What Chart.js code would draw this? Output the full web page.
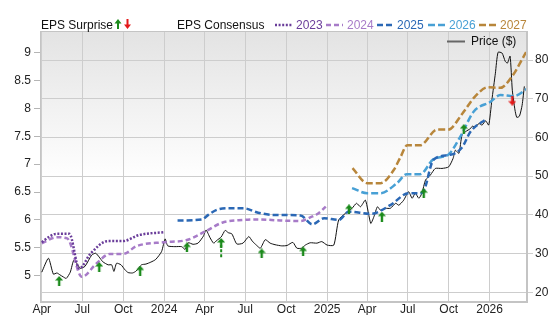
<!DOCTYPE html>
<html>
<head>
<meta charset="utf-8">
<script src="https://cdn.jsdelivr.net/npm/chart.js@4.4.0/dist/chart.umd.min.js"></script>
<style>
  html, body { margin: 0; padding: 0; background: #fff; }
  #wrap { position: relative; width: 556px; height: 315px; font-family: "Liberation Sans", Arial, sans-serif; }
  #chart { position: absolute; left: 0; top: 0; }
  .lg { position: absolute; font-size: 12px; line-height: 14px; white-space: nowrap; color: #111; }
  .smp { position: absolute; }
</style>
</head>
<body>
<div id="wrap">
  <canvas id="chart" width="556" height="315"></canvas>

  <div class="lg" style="left:41px;top:18px">EPS Surprise</div>
  <svg class="smp" style="left:114px;top:19px" width="18" height="11">
    <path d="M4 0 L7.5 4.5 L5 4.5 L5 10 L3 10 L3 4.5 L0.5 4.5 Z" fill="#1b8a1b"/>
    <path d="M13.5 10 L17 5.5 L14.5 5.5 L14.5 0 L12.5 0 L12.5 5.5 L10 5.5 Z" fill="#e41a1a"/>
  </svg>
  <div class="lg" style="left:177px;top:18px">EPS Consensus</div>

  <svg class="smp" style="left:275px;top:22px" width="18" height="6"><line x1="0" y1="3" x2="18" y2="3" stroke="#6a3d9a" stroke-width="2.5" stroke-dasharray="2,1.6"/></svg>
  <div class="lg" style="left:296px;top:18px;color:#6a3d9a">2023</div>
  <svg class="smp" style="left:326px;top:22px" width="17" height="6"><line x1="0" y1="3" x2="17" y2="3" stroke="#a77bc8" stroke-width="2.5" stroke-dasharray="5,3"/></svg>
  <div class="lg" style="left:347px;top:18px;color:#a77bc8">2024</div>
  <svg class="smp" style="left:377px;top:22px" width="17" height="6"><line x1="0" y1="3" x2="17" y2="3" stroke="#2b68b5" stroke-width="2.5" stroke-dasharray="6,3"/></svg>
  <div class="lg" style="left:397px;top:18px;color:#2b68b5">2025</div>
  <svg class="smp" style="left:428px;top:22px" width="17" height="6"><line x1="0" y1="3" x2="17" y2="3" stroke="#48a0d5" stroke-width="2.5" stroke-dasharray="7,3"/></svg>
  <div class="lg" style="left:449px;top:18px;color:#48a0d5">2026</div>
  <svg class="smp" style="left:479px;top:22px" width="18" height="6"><line x1="0" y1="3" x2="18" y2="3" stroke="#b8863b" stroke-width="2.5" stroke-dasharray="7,3"/></svg>
  <div class="lg" style="left:500px;top:18px;color:#b8863b">2027</div>

  <svg class="smp" style="left:447px;top:40px" width="18" height="3"><line x1="0" y1="1.5" x2="18" y2="1.5" stroke="#666" stroke-width="2"/></svg>
  <div class="lg" style="left:471px;top:34px">Price ($)</div>
</div>

<script>
// ---- data ----
const tickDates = ['2023-04-01','2023-07-01','2023-10-01','2024-01-01','2024-04-01','2024-07-01',
  '2024-10-01','2025-01-01','2025-04-01','2025-07-01','2025-10-01','2026-01-01'];
const tickLabels = ['Apr','Jul','Oct','2024','Apr','Jul','Oct','2025','Apr','Jul','Oct','2026'];
const epsTicks = [5, 5.5, 6, 6.5, 7, 7.5, 8, 8.5, 9];
const priceTicks = [20, 30, 40, 50, 60, 70, 80];

const priceDates = ['2023-04-01','2023-04-16','2023-04-27','2023-05-05','2023-05-12','2023-05-19','2023-05-26',
  '2023-06-04','2023-06-12','2023-06-21','2023-06-26','2023-07-07','2023-07-22','2023-07-31','2023-08-08',
  '2023-08-16','2023-08-28','2023-09-05','2023-09-10','2023-09-16','2023-09-26','2023-10-05','2023-10-12',
  '2023-10-22','2023-10-30','2023-11-11','2023-11-21','2023-12-02','2023-12-13','2023-12-26','2024-01-03',
  '2024-01-09','2024-01-25','2024-02-09','2024-02-17','2024-02-24','2024-03-06','2024-03-17','2024-03-29',
  '2024-04-04','2024-04-13','2024-04-21','2024-04-28','2024-05-08','2024-05-17','2024-05-24','2024-06-01',
  '2024-06-12','2024-06-26','2024-07-09','2024-07-17','2024-07-26','2024-08-04','2024-08-15','2024-08-26',
  '2024-09-06','2024-09-21','2024-10-03','2024-10-16','2024-10-25','2024-11-05','2024-11-13','2024-11-24',
  '2024-12-09','2024-12-20','2025-01-01','2025-01-16','2025-01-27','2025-02-11','2025-02-26','2025-03-08',
  '2025-03-17','2025-03-28','2025-04-09','2025-04-16','2025-04-24','2025-05-01','2025-05-12','2025-05-23',
  '2025-06-04','2025-06-11','2025-06-22','2025-07-03','2025-07-11','2025-07-18','2025-07-26','2025-08-02',
  '2025-08-10','2025-08-21','2025-09-01','2025-09-16','2025-10-01','2025-10-11','2025-10-16','2025-10-24',
  '2025-10-31','2025-11-08','2025-11-19','2025-11-23','2025-11-30','2025-12-08','2025-12-15','2025-12-23',
  '2025-12-30','2026-01-06','2026-01-14','2026-01-20','2026-01-29','2026-02-05','2026-02-10','2026-02-16',
  '2026-02-21','2026-02-27','2026-03-03','2026-03-09','2026-03-15','2026-03-20'];
const priceValues = [25.2,28.8,24.7,25.0,24.5,24.0,23.6,
  25.2,28.3,27.1,26.2,26.7,29.6,30.1,29.1,
  27.9,27.1,27.1,25.4,27.5,27.1,25.8,25.1,
  25.0,25.5,27.1,27.3,27.8,28.5,30.5,33.8,
  32.0,31.8,31.8,31.1,32.8,32.4,32.7,34.5,
  36.1,34.1,32.7,33.4,34.3,36.0,35.4,35.1,
  32.5,32.7,34.4,33.2,32.2,31.4,33.6,32.7,
  32.3,32.0,32.1,32.9,31.4,31.4,32.2,32.8,
  32.7,33.1,32.2,32.2,38.7,40.4,41.7,43.0,
  42.1,43.8,37.8,39.5,42.1,41.2,41.7,41.7,
  43.0,42.5,43.8,46.0,44.3,45.6,44.3,45.6,
  49.0,50.3,52.0,52.0,52.4,54.6,56.7,55.9,
  60.6,61.5,62.3,62.9,62.7,63.6,63.2,64.3,
  63.2,69.6,76.6,82.0,81.8,79.7,79.2,81.0,
  72.2,67.1,65.2,65.5,68.3,73.2];

const eps2023Dates = ['2023-04-01','2023-04-18','2023-05-03','2023-06-02','2023-06-24','2023-07-20','2023-08-27',
  '2023-09-30','2023-11-06','2024-01-01'];
const eps2023 = [5.60,5.70,5.75,5.75,5.13,5.40,5.62,5.62,5.73,5.78];

const eps2024Dates = ['2023-04-01','2023-05-05','2023-05-28','2023-06-30','2023-08-02','2023-09-01','2023-10-01',
  '2023-10-31','2023-12-30','2024-02-21','2024-04-06','2024-05-10','2024-06-28','2024-07-28','2024-09-18',
  '2024-11-02','2024-11-25','2024-12-11','2024-12-29'];
const eps2024 = [5.58,5.69,5.67,4.98,5.22,5.39,5.39,5.53,5.60,5.64,5.81,5.95,6.00,6.01,5.99,5.98,6.05,6.11,6.24];

const eps2025Dates = ['2024-01-31','2024-03-26','2024-04-09','2024-04-28','2024-05-24','2024-06-27','2024-07-30',
  '2024-09-02','2024-11-02','2024-11-29','2024-12-25','2025-01-27','2025-02-19','2025-04-09','2025-05-24',
  '2025-07-03','2025-07-29','2025-08-07','2025-08-28','2025-10-05','2025-10-31','2025-11-19','2025-12-26'];
const eps2025 = [5.99,6.01,6.09,6.18,6.21,6.21,6.13,6.09,6.08,5.92,6.03,6.00,6.15,6.11,6.27,6.48,6.48,6.54,
  7.08,7.17,7.30,7.58,7.82];

const eps2026Dates = ['2025-02-26','2025-04-01','2025-05-01','2025-06-07','2025-06-29','2025-07-29','2025-08-28',
  '2025-09-30','2025-10-27','2025-11-26','2026-01-03','2026-01-25','2026-02-24','2026-03-26'];
const eps2026 = [6.57,6.48,6.48,6.66,6.82,6.82,7.09,7.17,7.49,7.94,8.12,8.24,8.22,8.35];

const eps2027Dates = ['2025-02-27','2025-04-01','2025-05-01','2025-05-31','2025-06-15','2025-06-30','2025-07-29',
  '2025-09-05','2025-09-30','2025-11-01','2025-11-30','2025-12-28','2026-01-25','2026-02-20','2026-03-24'];
const eps2027 = [6.93,6.66,6.66,6.90,7.13,7.34,7.34,7.62,7.62,7.91,8.22,8.38,8.37,8.57,9.01];

const surpriseUpDates = ['2023-05-10','2023-08-08','2023-11-08','2024-02-21','2024-05-08','2024-08-07',
  '2024-11-08','2025-02-19','2025-05-04','2025-08-06','2025-11-04'];
const surpriseUp = [4.905,5.156,5.093,5.506,5.587,5.398,5.434,6.19,6.06,6.48,7.63];
const surpriseDownDates = ['2026-02-21'];
const surpriseDown = [8.14];
// dashed stem under the May 2024 surprise arrow
const stemDates = ['2024-05-08','2024-05-08'];
const stemValues = [5.33, 5.55];

// ---- helpers ----
const T0 = Date.UTC(2023, 3, 1);
const toDay = s => (Date.parse(s) - T0) / 86400000;
const pts = (dates, vals) => dates.map((d, i) => ({ x: toDay(d), y: vals[i] }));

function arrowImg(color, up) {
  const c = document.createElement('canvas');
  c.width = 8; c.height = 10;
  const g = c.getContext('2d');
  g.fillStyle = color;
  g.beginPath();
  if (up) {
    g.moveTo(4, 0); g.lineTo(8, 4.5); g.lineTo(5.2, 4.5); g.lineTo(5.2, 10);
    g.lineTo(2.8, 10); g.lineTo(2.8, 4.5); g.lineTo(0, 4.5);
  } else {
    g.moveTo(4, 10); g.lineTo(8, 5.5); g.lineTo(5.2, 5.5); g.lineTo(5.2, 0);
    g.lineTo(2.8, 0); g.lineTo(2.8, 5.5); g.lineTo(0, 5.5);
  }
  g.closePath();
  g.fill();
  return c;
}

const bgPlugin = {
  id: 'bg',
  beforeDraw(chart) {
    const { ctx, chartArea: a } = chart;
    const g = ctx.createLinearGradient(0, a.top, 0, a.bottom);
    g.addColorStop(0, '#e3e3e3');
    g.addColorStop(0.55, '#ffffff');
    g.addColorStop(1, '#ffffff');
    ctx.save();
    ctx.fillStyle = g;
    ctx.fillRect(a.left, a.top, a.right - a.left, a.bottom - a.top);
    ctx.restore();
  },
  afterDatasetsDraw(chart) {
    const { ctx, chartArea: a } = chart;
    ctx.save();
    ctx.strokeStyle = '#c4c4c4';
    ctx.lineWidth = 1;
    ctx.strokeRect(a.left + 0.5, a.top + 0.5, a.right - a.left - 1, a.bottom - a.top - 1);
    ctx.restore();
  }
};

function epsLine(label, dates, vals, color, dash) {
  return {
    label, data: pts(dates, vals), yAxisID: 'yL', borderColor: color, borderWidth: 2.5,
    borderDash: dash, pointRadius: 0, cubicInterpolationMode: 'monotone', fill: false, order: 2
  };
}

Chart.defaults.font.family = '"Liberation Sans", Arial, sans-serif';
Chart.defaults.font.size = 12;
Chart.defaults.color = '#222';

new Chart(document.getElementById('chart'), {
  type: 'line',
  data: {
    datasets: [
      { label: 'Surprise up', data: pts(surpriseUpDates, surpriseUp), yAxisID: 'yL', showLine: false,
        pointStyle: arrowImg('#1b8a1b', true), pointRadius: 4, order: 0 },
      { label: 'Surprise down', data: pts(surpriseDownDates, surpriseDown), yAxisID: 'yL', showLine: false,
        pointStyle: arrowImg('#e41a1a', false), pointRadius: 4, order: 0 },
      { label: 'stem', data: pts(stemDates, stemValues), yAxisID: 'yL', borderColor: '#1b8a1b',
        borderWidth: 2, borderDash: [3, 2], pointRadius: 0, order: 1 },
      epsLine('2023', eps2023Dates, eps2023, '#6a3d9a', [2, 1.6]),
      epsLine('2024', eps2024Dates, eps2024, '#a77bc8', [5, 3]),
      epsLine('2025', eps2025Dates, eps2025, '#2b68b5', [6, 3]),
      epsLine('2026', eps2026Dates, eps2026, '#48a0d5', [7, 3]),
      epsLine('2027', eps2027Dates, eps2027, '#b8863b', [7, 3]),
      { label: 'Price ($)', data: pts(priceDates, priceValues), yAxisID: 'yR', borderColor: '#111',
        borderWidth: 1, pointRadius: 0, tension: 0.2, fill: false, order: 3 }
    ]
  },
  options: {
    responsive: false,
    animation: false,
    layout: { padding: { top: 31, left: 0, right: 0, bottom: 0 } },
    plugins: { legend: { display: false }, tooltip: { enabled: false } },
    scales: {
      x: {
        type: 'linear',
        min: toDay('2023-03-28'),
        max: toDay('2026-03-26'),
        afterBuildTicks: s => { s.ticks = tickDates.map(d => ({ value: toDay(d) })); },
        afterFit: s => { s.height = 13; },
        ticks: { autoSkip: false, maxRotation: 0, padding: 0,
          callback: (v, i) => tickLabels[i] },
        grid: { color: '#cdcdcd', drawTicks: false },
        border: { color: '#c4c4c4' }
      },
      yL: {
        type: 'linear',
        position: 'left',
        min: 4.528,
        max: 9.389,
        afterBuildTicks: s => { s.ticks = epsTicks.map(v => ({ value: v })); },
        afterFit: s => { s.width = 40; },
        ticks: { padding: 3, callback: v => String(v) },
        grid: { drawOnChartArea: false, tickLength: 6, color: '#b5b5b5' },
        border: { color: '#c4c4c4' }
      },
      yR: {
        type: 'linear',
        position: 'right',
        min: 17.5,
        max: 87.5,
        afterBuildTicks: s => { s.ticks = priceTicks.map(v => ({ value: v })); },
        afterFit: s => { s.width = 29; },
        ticks: { padding: 2, callback: v => String(v) },
        grid: { color: '#cdcdcd', tickLength: 6 },
        border: { color: '#c4c4c4' }
      }
    }
  },
  plugins: [bgPlugin]
});
</script>
</body>
</html>
